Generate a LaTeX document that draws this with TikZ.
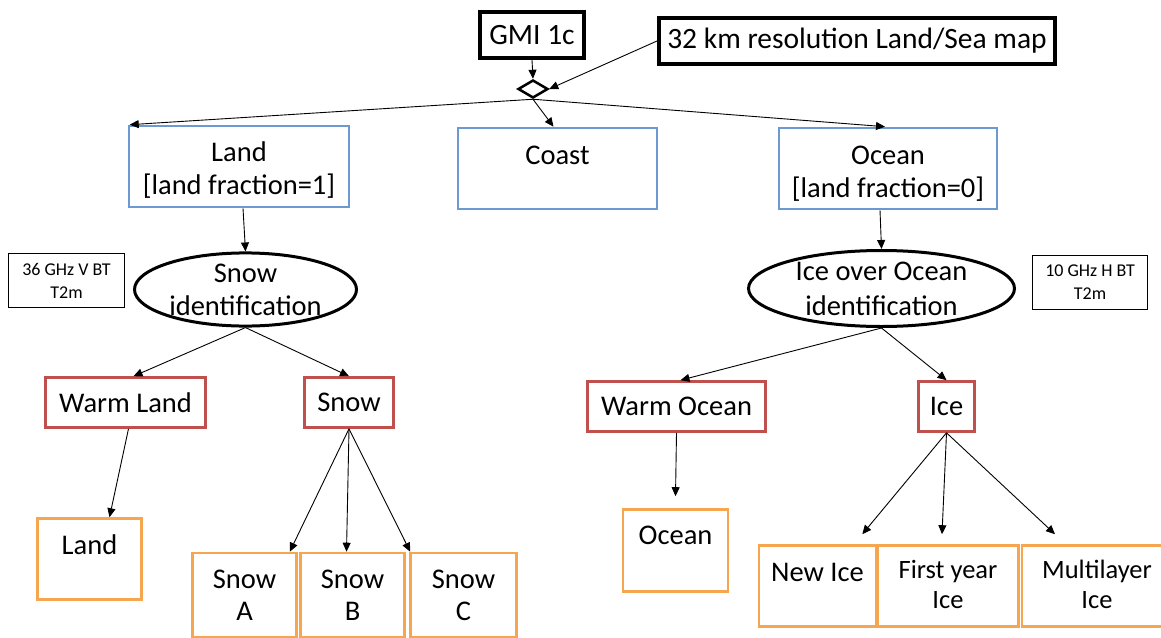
\documentclass[tikz,border=0pt]{standalone}
\usepackage{fontspec}
\setmainfont{Carlito}
\usetikzlibrary{shapes.geometric,arrows.meta}
\definecolor{cblue}{RGB}{108,154,208}
\definecolor{cred}{RGB}{192,80,77}
\definecolor{corange}{RGB}{247,166,80}
\tikzset{
  top/.style={font=\fontsize{29.5}{34}\selectfont},
  big/.style={font=\fontsize{28.5}{33}\selectfont},
  mid/.style={font=\fontsize{28.5}{32}\selectfont},
  sml/.style={font=\fontsize{26.5}{30}\selectfont},
  small/.style={font=\fontsize{18}{23}\selectfont},
  blackbox/.style={draw=black,line width=4pt,rectangle,inner sep=0pt,top},
  thinbox/.style={draw=black,line width=1.3pt,rectangle,inner sep=0pt,small,align=center},
  bluebox/.style={draw=cblue,line width=2.6pt,rectangle,inner sep=0pt,big,align=center},
  redbox/.style={draw=cred,line width=2.6pt,rectangle,inner sep=0pt,big,align=center},
  orbox/.style={draw=corange,line width=2.6pt,rectangle,inner sep=0pt,mid,align=center},
  ell/.style={draw=black,line width=3pt,ellipse,inner sep=0pt,big,align=center},
  arr/.style={-{Triangle[length=9pt,width=8pt]},line width=0.9pt},
  lbl/.style={inner sep=0pt,align=center}
}
\begin{document}
\begin{tikzpicture}[x=1pt,y=-1pt]
\useasboundingbox (0,0) rectangle (1161,637);
% top
\node[blackbox,minimum width=104pt,minimum height=46pt] (gmi) at (532,35) {GMI 1c};
\node[blackbox,minimum width=396pt,minimum height=46pt] (map) at (857,41) {32 km resolution Land/Sea map};
\node[draw=black,line width=2.5pt,diamond,inner sep=0pt,minimum width=30pt,minimum height=18pt] (dia) at (533,89) {};
% level 1
\node[bluebox,minimum width=220pt,minimum height=81pt] (land) at (239,166.5) {};
\node[lbl,big] (landtt) at (239,170.5) {Land\\{}{[}land fraction=1{]}};
\node[bluebox,minimum width=199pt,minimum height=81pt] (coast) at (557.5,168.5) {};
\node[lbl,big] (coastt) at (557.5,155) {Coast};
\node[bluebox,minimum width=218pt,minimum height=81pt] (ocean) at (888,168.5) {};
\node[lbl,big] (oceantt) at (888,173.5) {Ocean\\{}{[}land fraction=0{]}};
% level 2
\node[ell,minimum width=222pt,minimum height=64pt] (snowid) at (245.5,289.5) {Snow\\identification};
\node[ell,minimum width=266pt,minimum height=76pt,font=\fontsize{28.5}{35}\selectfont] (iceid) at (881.5,288.5) {Ice over Ocean\\identification};
\node[thinbox,minimum width=116pt,minimum height=54pt] (b36) at (66.5,280.5) {36 GHz V BT\\T2m};
\node[thinbox,minimum width=115pt,minimum height=54pt] (b10) at (1090,282.5) {10 GHz H BT\\T2m};
% level 3
\node[redbox,minimum width=160pt,minimum height=50pt] (warml) at (125.5,402.5) {Warm Land};
\node[redbox,minimum width=89pt,minimum height=50pt] (snow) at (349,402.5) {Snow};
\node[redbox,minimum width=178pt,minimum height=50pt] (warmo) at (676.5,406.5) {Warm Ocean};
\node[redbox,minimum width=56pt,minimum height=50pt] (ice) at (946.5,406.5) {Ice};
% level 4
\node[orbox,minimum width=104pt,minimum height=81pt] (landb) at (89.5,559) {};
\node[lbl,mid] (landt) at (89.5,545) {Land};
\node[orbox,minimum width=104pt,minimum height=84pt] (snowa) at (244.5,595) {Snow\\A};
\node[orbox,minimum width=104pt,minimum height=84pt] (snowb) at (352.5,595) {Snow\\B};
\node[orbox,minimum width=106pt,minimum height=84pt] (snowc) at (463.5,595) {Snow\\C};
\node[orbox,minimum width=105pt,minimum height=82pt] (oceanb) at (675.5,550.5) {};
\node[lbl,mid] (oceant) at (675.5,535) {Ocean};
\node[orbox,minimum width=117pt,minimum height=81pt] (newice) at (817.5,586) {};
\node[lbl,mid] (newicet) at (817.5,572) {New Ice};
\node[orbox,minimum width=141pt,minimum height=81pt] (fyi) at (948,586) {};
\node[lbl,sml] (fyit) at (948,584) {First year\\Ice};
\node[orbox,minimum width=150pt,minimum height=81pt] (mli) at (1097,586) {};
\node[lbl,sml] (mlit) at (1097,584) {Multilayer\\Ice};
% arrows
\draw[arr] (gmi.south) -- (dia.north);
\draw[arr] (map.west) -- (dia.east);
\draw[arr] (dia.south) -- ([xshift=2pt]land.north west);
\draw[arr] (dia.south) -- ([xshift=-4pt]coast.north);
\draw[arr] (dia.south) -- ([xshift=-3pt]ocean.north);
\draw[arr] ([xshift=4pt]land.south) -- (snowid.north);
\draw[arr] ([xshift=-8pt]ocean.south) -- (iceid.north);
\draw[arr] (snowid.south) -- ([xshift=8pt]warml.north);
\draw[arr] (snowid.south) -- (snow.north);
\draw[arr] (iceid.south) -- ([xshift=4pt]warmo.north);
\draw[arr] (iceid.south) -- (ice.north);
\draw[arr] ([xshift=3pt]warml.south) -- ([xshift=20pt]landb.north);
\draw[arr] (snow.south) -- ([xshift=-8pt]snowa.north east);
\draw[arr] (snow.south) -- ([xshift=-6pt]snowb.north);
\draw[arr] (snow.south) -- ([xshift=1pt]snowc.north west);
\draw[arr] (warmo.south) -- ([yshift=12pt]oceanb.north);
\draw[arr] (ice.south) -- ([xshift=-15pt,yshift=10pt]newice.north east);
\draw[arr] (ice.south) -- ([xshift=-6pt,yshift=10pt]fyi.north);
\draw[arr] (ice.south) -- ([xshift=-42pt,yshift=10pt]mli.north);
\end{tikzpicture}
\end{document}
